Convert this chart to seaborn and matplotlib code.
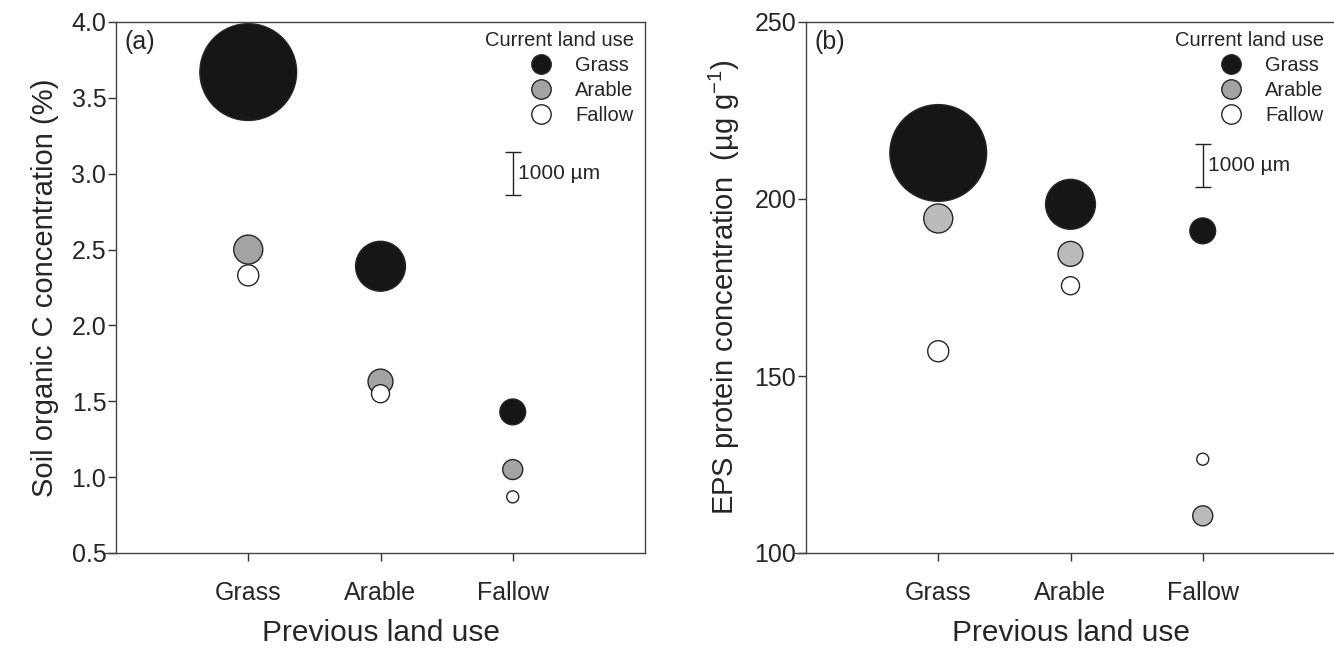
import numpy as np
import pandas as pd
import seaborn as sns
import matplotlib
matplotlib.use("Agg")
import matplotlib.pyplot as plt
from matplotlib.lines import Line2D

# previous land use (x) and current land use (colour)
previous = ["Grass", "Arable", "Fallow"]
current = ["Grass", "Arable", "Fallow"]

# soil organic C (%), one list per current land use, ordered by previous land use
soc_grass = [3.67, 2.39, 1.43]
soc_arable = [2.50, 1.63, 1.05]
soc_fallow = [2.33, 1.55, 0.87]

# EPS protein (ug g-1)
eps_grass = [213.0, 198.5, 191.0]
eps_arable = [194.5, 184.5, 110.5]
eps_fallow = [157.0, 175.5, 126.5]

# aggregate diameter (um) shown by bubble size
mwd_grass = [2250, 1160, 600]
mwd_arable = [675, 580, 465]
mwd_fallow = [490, 420, 280]

DPI = 100
PX_PER_UM = 43 / 1000  # the 1000 um scale bar is ~43 px tall


def build_frame(vals_g, vals_a, vals_f):
    rows = []
    for cur, vals, mwd in zip(current, [vals_g, vals_a, vals_f],
                              [mwd_grass, mwd_arable, mwd_fallow]):
        for p, v, m in zip(previous, vals, mwd):
            d_pt = m * PX_PER_UM * 72 / DPI
            rows.append({"previous": p, "current": cur, "value": v, "area": d_pt ** 2})
    return pd.DataFrame(rows)


sns.set_theme(style="ticks")
plt.rcParams["font.family"] = ["Liberation Sans", "DejaVu Sans"]
plt.rcParams["mathtext.fontset"] = "custom"
plt.rcParams["mathtext.rm"] = "Liberation Sans"
plt.rcParams["mathtext.it"] = "Liberation Sans:italic"

fig = plt.figure(figsize=(1334 / DPI, 649 / DPI), dpi=DPI)
ax_a = fig.add_axes([116 / 1334, 1 - 553 / 649, 529 / 1334, 531 / 649])
ax_b = fig.add_axes([806 / 1334, 1 - 553 / 649, 529 / 1334, 531 / 649])

edge = "#262626"
legend_pal = {"Grass": "#161616", "Arable": "#a3a3a3", "Fallow": "#ffffff"}

panels = [
    (ax_a, build_frame(soc_grass, soc_arable, soc_fallow), "#a3a3a3",
     "Soil organic C concentration (%)", (0.5, 4.0), np.arange(0.5, 4.01, 0.5), "(a)",
     3.0, 500 * PX_PER_UM / 151),
    (ax_b, build_frame(eps_grass, eps_arable, eps_fallow), "#bababa",
     "EPS protein concentration  (\u00b5g g$^{-1}$)", (100, 250), [100, 150, 200, 250], "(b)",
     209.5, 500 * PX_PER_UM / 3.527),
]

for ax, df, arable_col, ylabel, ylim, yticks, tag, bar_y, bar_half in panels:
    pal = {"Grass": "#161616", "Arable": arable_col, "Fallow": "#ffffff"}
    amin, amax = df["area"].min(), df["area"].max()
    sns.scatterplot(data=df, x="previous", y="value", hue="current", palette=pal,
                    size="area", sizes=(amin, amax), size_norm=(amin, amax),
                    edgecolor=edge, linewidth=1.0, alpha=1, legend=False, ax=ax)
    ax.set_xlim(-1, 3)
    ax.set_ylim(*ylim)
    ax.set_yticks(yticks)
    if tag == "(a)":
        ax.set_yticklabels([f"{t:.1f}" for t in yticks])
    ax.set_xlabel("Previous land use", fontsize=21.5, labelpad=10)
    ax.set_ylabel(ylabel, fontsize=21, labelpad=9)
    ax.tick_params(axis="both", labelsize=18, direction="out", length=6,
                   width=1, color="#333333", pad=1)
    ax.tick_params(axis="x", pad=14)
    for sp in ax.spines.values():
        sp.set_visible(True)
        sp.set_linewidth(1)
        sp.set_color("#444444")
    # x axis line runs a little past the y axis
    ax.plot([-0.021, 0], [0, 0], transform=ax.transAxes, color="#444444",
            lw=1, clip_on=False)
    ax.text(0.017, 0.985, tag, transform=ax.transAxes, fontsize=18, va="top", ha="left")

    # 1000 um scale bar
    ax.errorbar([2], [bar_y], yerr=[bar_half], fmt="none", ecolor="#222222",
                elinewidth=1, capsize=6, capthick=1)
    ax.text(2.04, bar_y, "1000 \u00b5m", fontsize=15, va="center", ha="left")

    handles = [Line2D([], [], marker="o", linestyle="none", markersize=14,
                      markerfacecolor=legend_pal[c], markeredgecolor=edge,
                      markeredgewidth=1, label=c) for c in current]
    leg = ax.legend(handles=handles, title="Current land use", loc="upper right",
                    bbox_to_anchor=(1.005, 1.01), frameon=False, fontsize=14.5,
                    title_fontsize=14.5, handletextpad=0.7, labelspacing=0.3,
                    borderaxespad=0.3)
    leg._legend_box.align = "right"

fig.savefig("out.png", dpi=DPI)
